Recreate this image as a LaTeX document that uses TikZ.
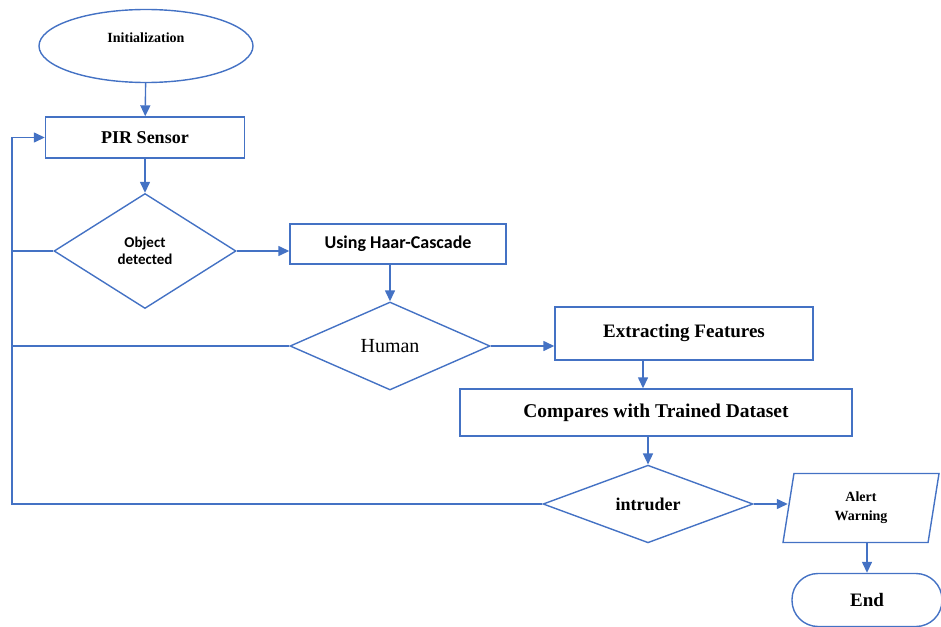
\documentclass[tikz,border=0pt]{standalone}
\usepackage{fontspec}
\setmainfont{Liberation Serif}
\newfontfamily\calibri{Carlito}
\usetikzlibrary{shapes.geometric,arrows.meta}
\definecolor{flowblue}{HTML}{4472C4}

\begin{document}
\begin{tikzpicture}[x=1pt,y=-1pt,
		flow/.style={draw=flowblue,line width=1.4pt,inner sep=0pt},
		box/.style={flow,rectangle},
		decision/.style={flow,diamond},
		lin/.style={draw=flowblue,line width=1.4pt},
		arr/.style={lin,-{Triangle[length=11pt,width=10pt]}}]
			\clip (0,0) rectangle (941,626); % page
			% blocks
			\node[flow,ellipse,minimum width=214pt,minimum height=73pt,font=\bfseries\fontsize{14}{16}\selectfont] (init) at (146,46) {\raisebox{4pt}[0pt][0pt]{Initialization}};
			\node[box,minimum width=199pt,minimum height=41pt,font=\bfseries\fontsize{18}{20}\selectfont] (pir) at (145,137.5) {PIR Sensor};
			\node[decision,minimum width=182pt,minimum height=115pt,align=center,font=\calibri\bfseries\fontsize{15}{17}\selectfont] (obj) at (145,251) {Object\\detected};
			\node[box,minimum width=216pt,minimum height=40pt,font=\calibri\bfseries\fontsize{18}{20}\selectfont] (haar) at (398,244) {Using Haar-Cascade};
			\node[decision,minimum width=200pt,minimum height=88pt,font=\fontsize{20}{22}\selectfont] (human) at (390,346) {Human};
			\node[box,minimum width=258pt,minimum height=53pt,font=\bfseries\fontsize{19}{21}\selectfont] (feat) at (684,333.5) {Extracting Features};
			\node[box,minimum width=392pt,minimum height=47pt,font=\bfseries\fontsize{19.5}{21}\selectfont] (comp) at (656,412.5) {Compares with Trained Dataset};
			\node[decision,minimum width=210pt,minimum height=72pt,font=\bfseries\fontsize{18}{20}\selectfont] (intr) at (648,504) {intruder};
			\node[flow,trapezium,trapezium left angle=71,trapezium right angle=109,trapezium stretches body,minimum width=156pt,minimum height=69pt,align=center,font=\bfseries\fontsize{14}{19}\selectfont] (alert) at (861,508) {Alert\\Warning};
			\node[box,rounded corners=26pt,minimum width=150pt,minimum height=53pt,font=\bfseries\fontsize{19}{21}\selectfont] (endn) at (867,600) {End};
			\coordinate (back) at (12,0); % left return line
			% connectors
			\draw[arr] (init) -- (pir);
			\draw[arr] (pir) -- (obj);
			\draw[arr] (obj.east) -- (obj.east -| haar.west);
			\draw[arr] (human.north |- haar.south) -- (human.north);
			\draw[arr] (human.east) -- (human.east -| feat.west);
			\draw[arr] ([xshift=-41pt]feat.south) -- ([xshift=-41pt]feat.south |- comp.north);
			\draw[arr] (intr.north |- comp.south) -- (intr.north);
			\draw[arr] (intr.east) -- (intr.east -| alert.west);
			\draw[arr] (endn.north |- alert.south) -- (endn.north);
			\draw[arr] (intr.west) -- (intr.west -| back) -- (back |- pir.west) -- (pir.west);
			\draw[lin] (obj.west) -- (obj.west -| back);
			\draw[lin] (human.west) -- (human.west -| back);
		\end{tikzpicture}
\end{document}
